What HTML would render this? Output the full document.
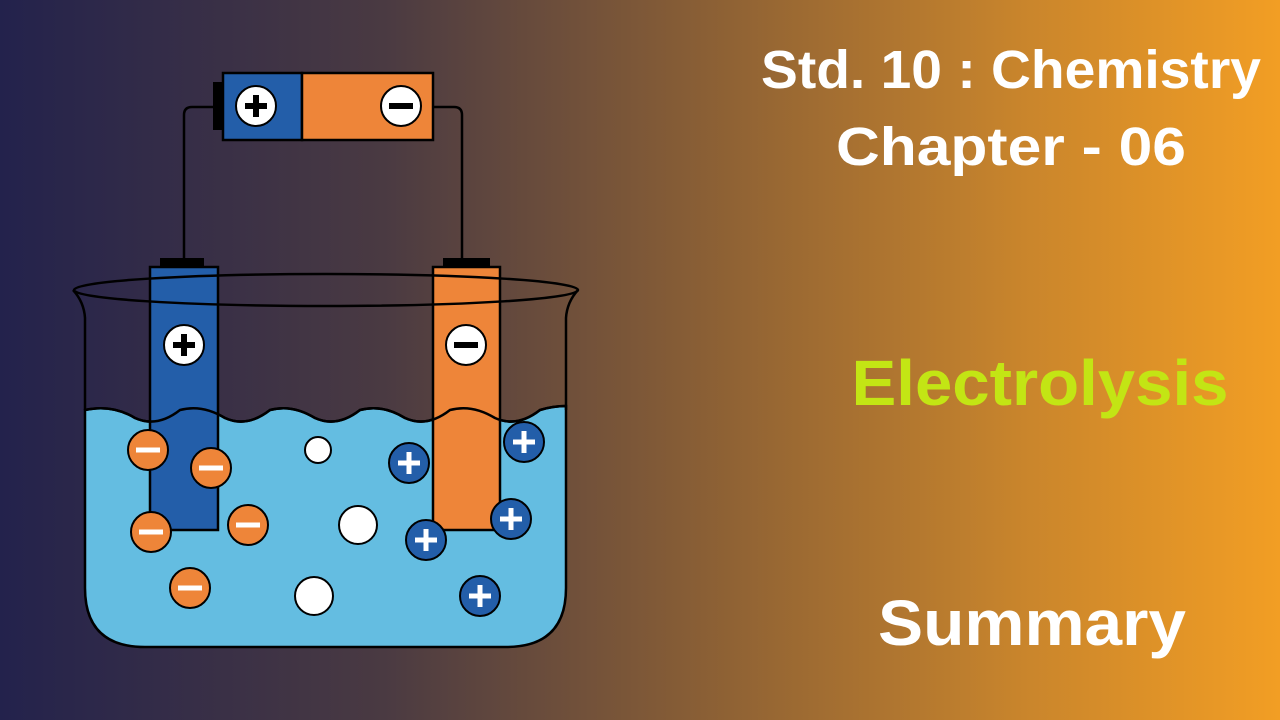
<!DOCTYPE html>
<html><head><meta charset="utf-8"><style>
html,body{margin:0;padding:0;width:1280px;height:720px;overflow:hidden}
body{background:linear-gradient(90deg,#23224c 0%,#4a3a42 30%,#8a5f35 55%,#c9852c 80%,#f29e24 100%)}
</style></head><body>
<svg width="1280" height="720" viewBox="0 0 1280 720" xmlns="http://www.w3.org/2000/svg" style="position:absolute;left:0;top:0">
<g stroke="#000" stroke-width="2.5" fill="none">
<path d="M223,107 H192 Q184,107 184,115 V258"/>
<path d="M433,107 H454 Q462,107 462,115 V258"/>
</g>
<rect x="213" y="82" width="10" height="48" fill="#000"/>
<rect x="223" y="73" width="79" height="67" fill="#235ea9" stroke="#000" stroke-width="2.5"/>
<rect x="302" y="73" width="131" height="67" fill="#ee8539" stroke="#000" stroke-width="2.5"/>
<circle cx="256" cy="106" r="20" fill="#fff" stroke="#000" stroke-width="2"/>
<path d="M256,95 V117 M245,106 H267" stroke="#000" stroke-width="6"/>
<circle cx="401" cy="106" r="20" fill="#fff" stroke="#000" stroke-width="2"/>
<path d="M389,106 H413" stroke="#000" stroke-width="6"/>
<!-- beaker water -->
<path d="M85,410 Q112,404 135,418 Q157,428 180,410 Q202,404 225,418 Q247,428 270,410 Q292,404 315,418 Q337,428 360,410 Q382,404 405,418 Q427,428 450,410 Q472,404 495,418 Q517,428 540,410 Q553,406 566,406 V588 Q566,647 506,647 H145 Q85,647 85,588 Z" fill="#64bde1" stroke="#000" stroke-width="2.5"/>
<!-- beaker walls -->
<path d="M85,410 V318 Q84,302 73,290 M566,410 V318 Q567,302 578,290" stroke="#000" stroke-width="2.5" fill="none"/>
<!-- electrodes -->
<rect x="160" y="258" width="44" height="10" fill="#000"/>
<rect x="150" y="267" width="68" height="263" fill="#235ea9" stroke="#000" stroke-width="2.5"/>
<rect x="443" y="258" width="47" height="10" fill="#000"/>
<rect x="433" y="267" width="67" height="263" fill="#ee8539" stroke="#000" stroke-width="2.5"/>
<circle cx="184" cy="345" r="20" fill="#fff" stroke="#000" stroke-width="2"/>
<path d="M184,334 V356 M173,345 H195" stroke="#000" stroke-width="6"/>
<circle cx="466" cy="345" r="20" fill="#fff" stroke="#000" stroke-width="2"/>
<path d="M454,345 H478" stroke="#000" stroke-width="6"/>
<!-- water line over electrodes -->
<path d="M85,410 Q112,404 135,418 Q157,428 180,410 Q202,404 225,418 Q247,428 270,410 Q292,404 315,418 Q337,428 360,410 Q382,404 405,418 Q427,428 450,410 Q472,404 495,418 Q517,428 540,410 Q553,406 566,406" stroke="#000" stroke-width="2.5" fill="none"/>
<!-- rim -->
<ellipse cx="326" cy="290" rx="252" ry="16" fill="none" stroke="#000" stroke-width="2.5"/>
<!-- negative ions -->
<g fill="#ee8539" stroke="#000" stroke-width="2">
<circle cx="148" cy="450" r="20"/><circle cx="211" cy="468" r="20"/><circle cx="151" cy="532" r="20"/><circle cx="248" cy="525" r="20"/><circle cx="190" cy="588" r="20"/>
</g>
<g stroke="#fff" stroke-width="5">
<path d="M136,450 H160 M199,468 H223 M139,532 H163 M236,525 H260 M178,588 H202"/>
</g>
<g fill="#fff" stroke="#000" stroke-width="2">
<circle cx="318" cy="450" r="13"/><circle cx="358" cy="525" r="19"/><circle cx="314" cy="596" r="19"/>
</g>
<g fill="#235ea9" stroke="#000" stroke-width="2">
<circle cx="409" cy="463" r="20"/><circle cx="524" cy="442" r="20"/><circle cx="426" cy="540" r="20"/><circle cx="511" cy="519" r="20"/><circle cx="480" cy="596" r="20"/>
</g>
<g stroke="#fff" stroke-width="5">
<path d="M409,452 V474 M398,463 H420 M524,431 V453 M513,442 H535 M426,529 V551 M415,540 H437 M511,508 V530 M500,519 H522 M480,585 V607 M469,596 H491"/>
</g>
<g font-family="Liberation Sans, sans-serif" font-weight="bold" text-anchor="middle">
<text x="1011" y="88" font-size="54" fill="#fff" textLength="500" lengthAdjust="spacingAndGlyphs">Std. 10 : Chemistry</text>
<text x="1011" y="165" font-size="54" fill="#fff" textLength="350" lengthAdjust="spacingAndGlyphs">Chapter - 06</text>
<text x="1040" y="405" font-size="64" fill="#c3e514" textLength="377" lengthAdjust="spacingAndGlyphs">Electrolysis</text>
<text x="1032" y="645" font-size="64" fill="#fff" textLength="308" lengthAdjust="spacingAndGlyphs">Summary</text>
</g>
</svg>
</body></html>
